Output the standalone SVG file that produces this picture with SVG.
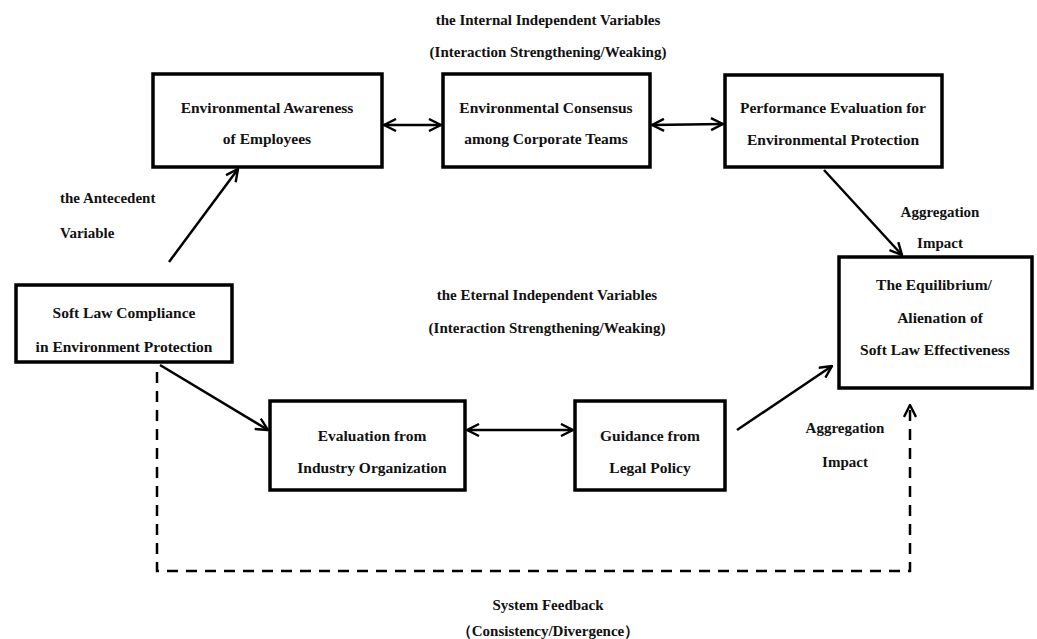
<svg xmlns="http://www.w3.org/2000/svg" width="1037" height="639" viewBox="0 0 1037 639">
<defs>
<marker id="ah" viewBox="0 0 14 14" refX="13" refY="7" markerWidth="14" markerHeight="14" markerUnits="userSpaceOnUse" orient="auto-start-reverse">
<path d="M1,1 L13,7 L1,13" fill="none" stroke="#000" stroke-width="2.4"/>
</marker>
</defs>
<style>
text{font-family:"Liberation Serif","Times New Roman",serif;font-weight:bold;font-size:15px;fill:#111;text-anchor:middle}
.bt{font-size:15.5px}
.box{fill:#fff;stroke:#000;stroke-width:3.5}
.c{fill:none;stroke:#000;stroke-width:2.5}
.d{fill:none;stroke:#000;stroke-width:2.5;stroke-dasharray:11 8}
</style>
<rect width="1037" height="639" fill="#fff"/>
<g id="labels">
<text x="548" y="25">the Internal Independent Variables</text>
<text x="548" y="57">(Interaction Strengthening/Weaking)</text>
<text x="60" y="203" style="text-anchor:start">the Antecedent</text>
<text x="60" y="238" style="text-anchor:start">Variable</text>
<text x="940" y="217">Aggregation</text>
<text x="940" y="248">Impact</text>
<text x="547" y="300">the Eternal Independent Variables</text>
<text x="547" y="333">(Interaction Strengthening/Weaking)</text>
<text x="845" y="433">Aggregation</text>
<text x="845" y="467">Impact</text>
<text x="548" y="610">System Feedback</text>
<text x="548" y="636">（Consistency/Divergence）</text>
</g>
<g id="connectors">
<line class="c" x1="384" y1="125" x2="441" y2="125" marker-start="url(#ah)" marker-end="url(#ah)"/>
<line class="c" x1="652" y1="125" x2="723" y2="124" marker-start="url(#ah)" marker-end="url(#ah)"/>
<line class="c" x1="169" y1="262" x2="238" y2="169" marker-end="url(#ah)"/>
<line class="c" x1="824" y1="170" x2="902" y2="255" marker-end="url(#ah)"/>
<line class="c" x1="160" y1="365" x2="268" y2="430" marker-end="url(#ah)"/>
<line class="c" x1="467" y1="430" x2="573" y2="430" marker-start="url(#ah)" marker-end="url(#ah)"/>
<line class="c" x1="737" y1="430" x2="832" y2="366" marker-end="url(#ah)"/>
<polyline class="d" points="157,372 157,571 910,571 910,405" marker-end="url(#ah)"/>
</g>
<g id="n1">
<rect class="box" x="153" y="74" width="229" height="93"/>
<text class="bt" x="267" y="113">Environmental Awareness</text>
<text class="bt" x="267" y="144">of Employees</text>
</g>
<g id="n2">
<rect class="box" x="443" y="74" width="207" height="93"/>
<text class="bt" x="546" y="113">Environmental Consensus</text>
<text class="bt" x="546" y="144">among Corporate Teams</text>
</g>
<g id="n3">
<rect class="box" x="725" y="75" width="217" height="92"/>
<text class="bt" x="833" y="113">Performance Evaluation for</text>
<text class="bt" x="833" y="145">Environmental Protection</text>
</g>
<g id="n4">
<rect class="box" x="16" y="285" width="216" height="77"/>
<text class="bt" x="124" y="318">Soft Law Compliance</text>
<text class="bt" x="124" y="352">in Environment Protection</text>
</g>
<g id="n5">
<rect class="box" x="839" y="257" width="193" height="131"/>
<text class="bt" x="934" y="290">The Equilibrium/</text>
<text class="bt" x="940" y="323">Alienation of</text>
<text class="bt" x="935" y="355">Soft Law Effectiveness</text>
</g>
<g id="n6">
<rect class="box" x="270" y="401" width="195" height="89"/>
<text class="bt" x="372" y="441">Evaluation from</text>
<text class="bt" x="372" y="473">Industry Organization</text>
</g>
<g id="n7">
<rect class="box" x="575" y="401" width="150" height="89"/>
<text class="bt" x="650" y="441">Guidance from</text>
<text class="bt" x="650" y="473">Legal Policy</text>
</g>
</svg>
